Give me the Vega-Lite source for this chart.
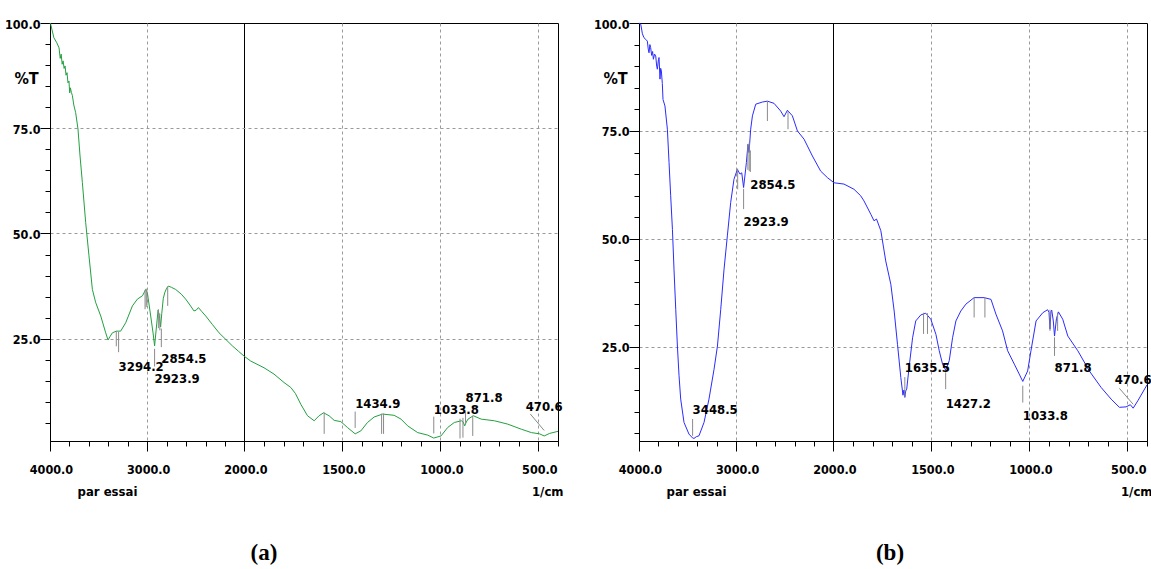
{
  "$schema": "https://vega.github.io/schema/vega-lite/v6.json",
  "background": "white",
  "padding": {"left": 0, "top": 0, "right": 0, "bottom": 0},
  "bounds": "flush",
  "spacing": 81,
  "config": {
    "view": {"stroke": "black", "strokeWidth": 1},
    "axis": {
      "labelFont": "'DejaVu Sans Condensed', 'Liberation Sans', sans-serif",
      "labelFontWeight": "bold",
      "labelFontSize": 12.5,
      "labelColor": "black",
      "titleFont": "'DejaVu Sans Condensed', 'Liberation Sans', sans-serif",
      "titleFontWeight": "bold",
      "titleFontSize": 13,
      "titleColor": "black",
      "domainColor": "black",
      "tickColor": "black",
      "labelFlush": false,
      "labelOverlap": false
    },
    "title": {"font": "'Liberation Serif', 'Times New Roman', serif", "fontSize": 23, "fontWeight": "bold", "color": "black"}
  },
  "datasets": {
    "ftirA": [
      {"wn": 4000, "t": 100}, {"wn": 3993, "t": 99.7}, {"wn": 3960, "t": 96.5}, {"wn": 3930, "t": 95.3},
      {"wn": 3907, "t": 94.1}, {"wn": 3895, "t": 91.6}, {"wn": 3885, "t": 92.6}, {"wn": 3875, "t": 90.2},
      {"wn": 3865, "t": 91.0}, {"wn": 3855, "t": 89.2}, {"wn": 3845, "t": 89.8}, {"wn": 3835, "t": 87.6},
      {"wn": 3825, "t": 88.2}, {"wn": 3815, "t": 85.8}, {"wn": 3805, "t": 86.2}, {"wn": 3797, "t": 83.4},
      {"wn": 3790, "t": 84.6}, {"wn": 3780, "t": 83.5}, {"wn": 3770, "t": 82.8}, {"wn": 3755, "t": 80.5},
      {"wn": 3736, "t": 78.7}, {"wn": 3712, "t": 74.8}, {"wn": 3691, "t": 68.4}, {"wn": 3667, "t": 62.1},
      {"wn": 3633, "t": 52.6}, {"wn": 3599, "t": 44.7}, {"wn": 3564, "t": 36.7}, {"wn": 3530, "t": 33.6},
      {"wn": 3478, "t": 30.4}, {"wn": 3427, "t": 26.4}, {"wn": 3403, "t": 24.7}, {"wn": 3380, "t": 25.6},
      {"wn": 3358, "t": 26.4}, {"wn": 3317, "t": 26.8}, {"wn": 3273, "t": 26.8}, {"wn": 3221, "t": 28.8},
      {"wn": 3152, "t": 32.8}, {"wn": 3101, "t": 34.4}, {"wn": 3049, "t": 35.2}, {"wn": 3015, "t": 36.7},
      {"wn": 2998, "t": 35.9}, {"wn": 2964, "t": 30.4}, {"wn": 2940, "t": 26.4}, {"wn": 2923.9, "t": 23.3},
      {"wn": 2902, "t": 28.5}, {"wn": 2888, "t": 31.8}, {"wn": 2875, "t": 30.5}, {"wn": 2862, "t": 27.8},
      {"wn": 2850, "t": 31.0}, {"wn": 2835, "t": 34.5}, {"wn": 2820, "t": 35.9}, {"wn": 2800, "t": 37.0},
      {"wn": 2782, "t": 37.5}, {"wn": 2750, "t": 37.2}, {"wn": 2707, "t": 36.7}, {"wn": 2650, "t": 35.6},
      {"wn": 2604, "t": 34.4}, {"wn": 2560, "t": 33.0}, {"wn": 2519, "t": 31.6}, {"wn": 2495, "t": 31.8},
      {"wn": 2473, "t": 32.4}, {"wn": 2440, "t": 31.5}, {"wn": 2398, "t": 30.4}, {"wn": 2330, "t": 28.4},
      {"wn": 2261, "t": 26.4}, {"wn": 2190, "t": 24.8}, {"wn": 2124, "t": 23.3}, {"wn": 2060, "t": 22.0},
      {"wn": 2000, "t": 20.8}, {"wn": 1968, "t": 19.7}, {"wn": 1900, "t": 18.1}, {"wn": 1849, "t": 16.6},
      {"wn": 1798, "t": 14.6}, {"wn": 1763, "t": 13.4}, {"wn": 1740, "t": 12.0}, {"wn": 1712, "t": 9.4},
      {"wn": 1678, "t": 6.7}, {"wn": 1644, "t": 5.5}, {"wn": 1619, "t": 6.7}, {"wn": 1596, "t": 7.4},
      {"wn": 1568, "t": 6.7}, {"wn": 1542, "t": 5.6}, {"wn": 1508, "t": 5.3}, {"wn": 1474, "t": 3.9},
      {"wn": 1434.9, "t": 2.4}, {"wn": 1406, "t": 3.1}, {"wn": 1372, "t": 5.1}, {"wn": 1338, "t": 6.4},
      {"wn": 1295, "t": 7.1}, {"wn": 1236, "t": 6.8}, {"wn": 1201, "t": 5.9}, {"wn": 1167, "t": 4.3},
      {"wn": 1116, "t": 2.7}, {"wn": 1065, "t": 2.1}, {"wn": 1033.8, "t": 1.4}, {"wn": 997, "t": 1.9},
      {"wn": 963, "t": 3.9}, {"wn": 929, "t": 5.1}, {"wn": 893, "t": 5.5}, {"wn": 885, "t": 5.3},
      {"wn": 876, "t": 4.3}, {"wn": 868, "t": 5.2}, {"wn": 859, "t": 5.9}, {"wn": 832, "t": 6.7},
      {"wn": 792, "t": 5.9}, {"wn": 724, "t": 5.5}, {"wn": 656, "t": 4.7}, {"wn": 587, "t": 3.5},
      {"wn": 536, "t": 2.7}, {"wn": 494, "t": 2.4}, {"wn": 470.6, "t": 1.9}, {"wn": 443, "t": 2.5},
      {"wn": 400, "t": 3.0}
    ],
    "ftirB": [
      {"wn": 4000, "t": 100}, {"wn": 3982, "t": 99.7}, {"wn": 3965, "t": 97.5}, {"wn": 3949, "t": 96.6},
      {"wn": 3930, "t": 96.2}, {"wn": 3914, "t": 95.8}, {"wn": 3905, "t": 94.0}, {"wn": 3897, "t": 93.1},
      {"wn": 3888, "t": 95.0}, {"wn": 3880, "t": 94.3}, {"wn": 3870, "t": 92.5}, {"wn": 3860, "t": 93.4},
      {"wn": 3852, "t": 91.6}, {"wn": 3840, "t": 92.8}, {"wn": 3828, "t": 92.4}, {"wn": 3818, "t": 90.0},
      {"wn": 3811, "t": 89.3}, {"wn": 3800, "t": 91.5}, {"wn": 3794, "t": 92.0}, {"wn": 3784, "t": 87.0},
      {"wn": 3777, "t": 89.5}, {"wn": 3770, "t": 88.9}, {"wn": 3760, "t": 86.0}, {"wn": 3753, "t": 82.3},
      {"wn": 3733, "t": 80.8}, {"wn": 3708, "t": 75.4}, {"wn": 3691, "t": 67.7}, {"wn": 3674, "t": 60.0},
      {"wn": 3656, "t": 52.2}, {"wn": 3640, "t": 43.0}, {"wn": 3622, "t": 33.7}, {"wn": 3605, "t": 25.2},
      {"wn": 3588, "t": 18.3}, {"wn": 3571, "t": 12.9}, {"wn": 3537, "t": 7.5}, {"wn": 3486, "t": 4.8},
      {"wn": 3448.5, "t": 3.9}, {"wn": 3434, "t": 3.8}, {"wn": 3410, "t": 4.2}, {"wn": 3383, "t": 4.4},
      {"wn": 3331, "t": 7.5}, {"wn": 3280, "t": 12.9}, {"wn": 3228, "t": 19.8}, {"wn": 3193, "t": 25.2},
      {"wn": 3159, "t": 33.7}, {"wn": 3125, "t": 43.0}, {"wn": 3091, "t": 50.7}, {"wn": 3057, "t": 58.4},
      {"wn": 3023, "t": 63.8}, {"wn": 2988, "t": 66.1}, {"wn": 2961, "t": 65.0}, {"wn": 2943, "t": 65.3},
      {"wn": 2923.9, "t": 61.9}, {"wn": 2895, "t": 67.7}, {"wn": 2879, "t": 71.9}, {"wn": 2868, "t": 70.0},
      {"wn": 2851, "t": 75.4}, {"wn": 2833, "t": 78.5}, {"wn": 2799, "t": 81.2}, {"wn": 2730, "t": 81.7},
      {"wn": 2679, "t": 81.9}, {"wn": 2611, "t": 81.4}, {"wn": 2542, "t": 79.6}, {"wn": 2508, "t": 78.3},
      {"wn": 2473, "t": 79.8}, {"wn": 2422, "t": 78.5}, {"wn": 2370, "t": 75.0}, {"wn": 2302, "t": 73.1},
      {"wn": 2216, "t": 69.2}, {"wn": 2131, "t": 65.7}, {"wn": 2062, "t": 64.2}, {"wn": 1997, "t": 63.0},
      {"wn": 1946, "t": 62.7}, {"wn": 1895, "t": 61.5}, {"wn": 1861, "t": 60.0}, {"wn": 1844, "t": 58.8},
      {"wn": 1809, "t": 55.7}, {"wn": 1793, "t": 54.2}, {"wn": 1780, "t": 54.6}, {"wn": 1758, "t": 51.9},
      {"wn": 1733, "t": 44.9}, {"wn": 1707, "t": 39.5}, {"wn": 1690, "t": 33.3}, {"wn": 1673, "t": 25.6},
      {"wn": 1656, "t": 17.9}, {"wn": 1645, "t": 13.8}, {"wn": 1640, "t": 15.0}, {"wn": 1635.5, "t": 13.3},
      {"wn": 1631, "t": 14.8}, {"wn": 1626, "t": 15.2}, {"wn": 1614, "t": 20.2}, {"wn": 1596, "t": 27.1},
      {"wn": 1580, "t": 31.0}, {"wn": 1554, "t": 32.4}, {"wn": 1529, "t": 32.8}, {"wn": 1503, "t": 31.4},
      {"wn": 1477, "t": 27.9}, {"wn": 1460, "t": 24.1}, {"wn": 1443, "t": 21.0}, {"wn": 1427.2, "t": 19.6},
      {"wn": 1409, "t": 21.8}, {"wn": 1392, "t": 27.1}, {"wn": 1375, "t": 31.0}, {"wn": 1350, "t": 33.3},
      {"wn": 1324, "t": 34.9}, {"wn": 1282, "t": 36.4}, {"wn": 1231, "t": 36.4}, {"wn": 1196, "t": 36.0},
      {"wn": 1171, "t": 32.6}, {"wn": 1137, "t": 28.7}, {"wn": 1111, "t": 24.1}, {"wn": 1077, "t": 21.0},
      {"wn": 1052, "t": 18.7}, {"wn": 1033.8, "t": 17.0}, {"wn": 1009, "t": 19.4}, {"wn": 992, "t": 24.1},
      {"wn": 966, "t": 31.0}, {"wn": 932, "t": 32.9}, {"wn": 907, "t": 33.6}, {"wn": 900, "t": 33.0},
      {"wn": 895, "t": 29.1}, {"wn": 890, "t": 33.2}, {"wn": 886, "t": 33.5}, {"wn": 878, "t": 31.0},
      {"wn": 871.8, "t": 27.5}, {"wn": 862, "t": 31.5}, {"wn": 852, "t": 33.1}, {"wn": 830, "t": 31.4},
      {"wn": 804, "t": 27.5}, {"wn": 753, "t": 24.1}, {"wn": 694, "t": 19.4}, {"wn": 634, "t": 15.6},
      {"wn": 583, "t": 12.9}, {"wn": 541, "t": 11.0}, {"wn": 507, "t": 11.1}, {"wn": 485, "t": 11.6},
      {"wn": 470.6, "t": 10.8}, {"wn": 447, "t": 12.5}, {"wn": 400, "t": 16.2}
    ],
    "marksA": [
      {"wn": 3318, "wn2": 3318, "t1": 26.8, "t2": 23.2},
      {"wn": 3294.2, "wn2": 3294.2, "t1": 26.6, "t2": 21.8},
      {"wn": 3022, "wn2": 3022, "t1": 36.6, "t2": 32.0},
      {"wn": 3010, "wn2": 3010, "t1": 36.9, "t2": 32.5},
      {"wn": 3002, "wn2": 3002, "t1": 36.2, "t2": 33.0},
      {"wn": 2923.9, "wn2": 2923.9, "t1": 22.6, "t2": 18.4},
      {"wn": 2885, "wn2": 2885, "t1": 32.0, "t2": 27.5},
      {"wn": 2870, "wn2": 2870, "t1": 31.0, "t2": 27.0},
      {"wn": 2854.5, "wn2": 2854.5, "t1": 27.4, "t2": 23.0},
      {"wn": 2789, "wn2": 2789, "t1": 37.4, "t2": 32.8},
      {"wn": 1593, "wn2": 1593, "t1": 7.5, "t2": 2.4},
      {"wn": 1434.9, "wn2": 1434.9, "t1": 7.7, "t2": 3.8},
      {"wn": 1300, "wn2": 1300, "t1": 7.2, "t2": 2.4},
      {"wn": 1290, "wn2": 1290, "t1": 7.2, "t2": 2.4},
      {"wn": 1033.8, "wn2": 1033.8, "t1": 6.5, "t2": 2.5},
      {"wn": 900, "wn2": 900, "t1": 6.0, "t2": 1.3},
      {"wn": 885, "wn2": 885, "t1": 6.2, "t2": 1.5},
      {"wn": 871.8, "wn2": 871.8, "t1": 7.5, "t2": 4.8},
      {"wn": 835, "wn2": 835, "t1": 6.7, "t2": 1.9},
      {"wn": 541, "wn2": 470.6, "t1": 7.1, "t2": 3.2}
    ],
    "marksB": [
      {"wn": 3448.5, "wn2": 3448.5, "t1": 8.3, "t2": 4.4},
      {"wn": 2985, "wn2": 2985, "t1": 66.3, "t2": 61.5},
      {"wn": 2923.9, "wn2": 2923.9, "t1": 61.6, "t2": 56.9},
      {"wn": 2880, "wn2": 2880, "t1": 72.0, "t2": 66.0},
      {"wn": 2866, "wn2": 2866, "t1": 72.3, "t2": 65.7},
      {"wn": 2854.5, "wn2": 2854.5, "t1": 70.5, "t2": 65.5},
      {"wn": 2679, "wn2": 2679, "t1": 81.9, "t2": 77.3},
      {"wn": 2467, "wn2": 2467, "t1": 79.6, "t2": 75.4},
      {"wn": 1635.5, "wn2": 1635.5, "t1": 18.0, "t2": 13.4},
      {"wn": 1540, "wn2": 1540, "t1": 32.9, "t2": 28.0},
      {"wn": 1520, "wn2": 1520, "t1": 32.8, "t2": 28.0},
      {"wn": 1427.2, "wn2": 1427.2, "t1": 19.1, "t2": 15.2},
      {"wn": 1282, "wn2": 1282, "t1": 36.4, "t2": 31.8},
      {"wn": 1227, "wn2": 1227, "t1": 36.4, "t2": 31.8},
      {"wn": 1033.8, "wn2": 1033.8, "t1": 16.0, "t2": 12.1},
      {"wn": 895, "wn2": 895, "t1": 33.6, "t2": 28.7},
      {"wn": 871.8, "wn2": 871.8, "t1": 27.2, "t2": 22.9},
      {"wn": 856, "wn2": 856, "t1": 32.9, "t2": 28.7},
      {"wn": 541, "wn2": 470.6, "t1": 15.4, "t2": 11.7}
    ],
    "labelsA": [
      {"wn": 3294.2, "ty": 17.4},
      {"wn": 2923.9, "ty": 14.5},
      {"wn": 2854.5, "ty": 19.3},
      {"wn": 1434.9, "ty": 8.6},
      {"wn": 1033.8, "ty": 7.2},
      {"wn": 871.8, "ty": 10.0},
      {"wn": 470.6, "ty": 7.9}
    ],
    "labelsB": [
      {"wn": 3448.5, "ty": 9.5},
      {"wn": 2923.9, "ty": 53.0},
      {"wn": 2854.5, "ty": 61.6},
      {"wn": 1635.5, "ty": 19.1},
      {"wn": 1427.2, "ty": 10.9},
      {"wn": 1033.8, "ty": 8.0},
      {"wn": 871.8, "ty": 19.1},
      {"wn": 470.6, "ty": 16.4}
    ]
  },
  "hconcat": [
    {
      "width": 508,
      "height": 418,
      "title": {"text": "(a)", "orient": "bottom", "offset": 44, "dx": -40},
      "resolve": {"axis": {"x": "independent", "y": "independent"}},
      "layer": [
        {
          "data": {"name": "ftirA"},
          "mark": {"type": "line", "color": "#22a040", "strokeWidth": 1},
          "encoding": {
            "x": {
              "field": "wn", "type": "quantitative",
              "scale": {"domain": [4000, 2000, 400], "range": [0, 194.4, 508], "nice": false, "zero": false},
              "axis": {
                "orient": "bottom",
                "values": [4000, 3000, 2000, 1500, 1000, 500], "format": ".1f",
                "tickSize": 10, "labelPadding": 12, "labelOffset": 1,
                "grid": true,
                "gridColor": {"condition": {"test": "datum.value === 2000", "value": "black"}, "value": "#9a9a9a"},
                "gridDash": {"condition": {"test": "datum.value === 2000", "value": []}, "value": [3, 3]},
                "gridOpacity": {"condition": {"test": "datum.value === 4000", "value": 0}, "value": 1},
                "title": "par essai", "titleX": 57, "titleY": 54, "titleAlign": "center", "titleBaseline": "alphabetic", "titleAnchor": null
              }
            },
            "y": {
              "field": "t", "type": "quantitative",
              "scale": {"domain": [0.7, 100], "nice": false, "zero": false},
              "axis": {
                "orient": "left",
                "values": [25, 50, 75, 100], "format": ".1f",
                "tickSize": 10, "labelPadding": 0, "labelOffset": 1,
                "grid": true, "gridColor": "#9a9a9a", "gridDash": [3, 3],
                "gridOpacity": {"condition": {"test": "datum.value === 100", "value": 0}, "value": 1},
                "title": "%T", "titleAngle": 0, "titleX": -24, "titleY": 60, "titleAlign": "center", "titleBaseline": "alphabetic", "titleFontSize": 16
              }
            }
          }
        },
        {
          "data": {"name": "marksA"},
          "mark": {"type": "rule", "color": "#8a8a8a", "strokeWidth": 1},
          "encoding": {
            "x": {
              "field": "wn", "type": "quantitative",
              "scale": {"domain": [4000, 2000, 400], "range": [0, 194.4, 508], "nice": false, "zero": false},
              "axis": {
                "orient": "bottom",
                "values": [3800, 3600, 3400, 3200, 2800, 2600, 2400, 2200, 1900, 1800, 1700, 1600, 1400, 1300, 1200, 1100, 900, 800, 700, 600, 400],
                "tickSize": 5, "labels": false, "domain": false, "grid": false,
                "title": "1/cm", "titleX": 513, "titleY": 54, "titleAlign": "right", "titleBaseline": "alphabetic", "titleAnchor": null
              }
            },
            "x2": {"field": "wn2"},
            "y": {
              "field": "t1", "type": "quantitative",
              "scale": {"domain": [0.7, 100], "nice": false, "zero": false},
              "axis": {
                "orient": "left",
                "values": [5, 10, 15, 20, 30, 35, 40, 45, 55, 60, 65, 70, 80, 85, 90, 95],
                "tickSize": 5, "labels": false, "domain": false, "grid": false,
                "title": ".", "titleOpacity": 0, "titleAngle": 0, "titleX": -49.3, "titleY": -22, "titleAlign": "left", "titleBaseline": "top"
              }
            },
            "y2": {"field": "t2"}
          }
        },
        {
          "data": {"name": "labelsA"},
          "transform": [{"filter": "datum.wn > 500"}],
          "mark": {"type": "text", "align": "left", "baseline": "alphabetic", "font": "'DejaVu Sans Condensed', 'Liberation Sans', sans-serif", "fontWeight": "bold", "fontSize": 13, "color": "black"},
          "encoding": {
            "x": {"field": "wn", "type": "quantitative", "axis": null, "scale": {"domain": [4000, 2000, 400], "range": [0, 194.4, 508], "nice": false, "zero": false}},
            "y": {"field": "ty", "type": "quantitative", "axis": null, "scale": {"domain": [0.7, 100], "nice": false, "zero": false}},
            "text": {"field": "wn", "type": "quantitative", "format": ".1f"}
          }
        },
        {
          "data": {"name": "labelsA"},
          "transform": [{"filter": "datum.wn < 500"}],
          "mark": {"type": "text", "align": "center", "baseline": "alphabetic", "font": "'DejaVu Sans Condensed', 'Liberation Sans', sans-serif", "fontWeight": "bold", "fontSize": 13, "color": "black"},
          "encoding": {
            "x": {"field": "wn", "type": "quantitative", "axis": null, "scale": {"domain": [4000, 2000, 400], "range": [0, 194.4, 508], "nice": false, "zero": false}},
            "y": {"field": "ty", "type": "quantitative", "axis": null, "scale": {"domain": [0.7, 100], "nice": false, "zero": false}},
            "text": {"field": "wn", "type": "quantitative", "format": ".1f"}
          }
        }
      ]
    },
    {
      "width": 508,
      "height": 418,
      "title": {"text": "(b)", "orient": "bottom", "offset": 44, "dx": -3},
      "resolve": {"axis": {"x": "independent", "y": "independent"}},
      "layer": [
        {
          "data": {"name": "ftirB"},
          "mark": {"type": "line", "color": "#2b2bff", "strokeWidth": 1},
          "encoding": {
            "x": {
              "field": "wn", "type": "quantitative",
              "scale": {"domain": [4000, 2000, 400], "range": [0, 194.4, 508], "nice": false, "zero": false},
              "axis": {
                "orient": "bottom",
                "values": [4000, 3000, 2000, 1500, 1000, 500], "format": ".1f",
                "tickSize": 10, "labelPadding": 12, "labelOffset": 1,
                "grid": true,
                "gridColor": {"condition": {"test": "datum.value === 2000", "value": "black"}, "value": "#9a9a9a"},
                "gridDash": {"condition": {"test": "datum.value === 2000", "value": []}, "value": [3, 3]},
                "gridOpacity": {"condition": {"test": "datum.value === 4000", "value": 0}, "value": 1},
                "title": "par essai", "titleX": 57, "titleY": 54, "titleAlign": "center", "titleBaseline": "alphabetic", "titleAnchor": null
              }
            },
            "y": {
              "field": "t", "type": "quantitative",
              "scale": {"domain": [3.2, 100], "nice": false, "zero": false},
              "axis": {
                "orient": "left",
                "values": [25, 50, 75, 100], "format": ".1f",
                "tickSize": 10, "labelPadding": 0, "labelOffset": 1,
                "grid": true, "gridColor": "#9a9a9a", "gridDash": [3, 3],
                "gridOpacity": {"condition": {"test": "datum.value === 100", "value": 0}, "value": 1},
                "title": "%T", "titleAngle": 0, "titleX": -24, "titleY": 60, "titleAlign": "center", "titleBaseline": "alphabetic", "titleFontSize": 16
              }
            }
          }
        },
        {
          "data": {"name": "marksB"},
          "mark": {"type": "rule", "color": "#8a8a8a", "strokeWidth": 1},
          "encoding": {
            "x": {
              "field": "wn", "type": "quantitative",
              "scale": {"domain": [4000, 2000, 400], "range": [0, 194.4, 508], "nice": false, "zero": false},
              "axis": {
                "orient": "bottom",
                "values": [3800, 3600, 3400, 3200, 2800, 2600, 2400, 2200, 1900, 1800, 1700, 1600, 1400, 1300, 1200, 1100, 900, 800, 700, 600, 400],
                "tickSize": 5, "labels": false, "domain": false, "grid": false,
                "title": "1/cm", "titleX": 513, "titleY": 54, "titleAlign": "right", "titleBaseline": "alphabetic", "titleAnchor": null
              }
            },
            "x2": {"field": "wn2"},
            "y": {
              "field": "t1", "type": "quantitative",
              "scale": {"domain": [3.2, 100], "nice": false, "zero": false},
              "axis": {
                "orient": "left",
                "values": [5, 10, 15, 20, 30, 35, 40, 45, 55, 60, 65, 70, 80, 85, 90, 95],
                "tickSize": 5, "labels": false, "domain": false, "grid": false, "title": null
              }
            },
            "y2": {"field": "t2"}
          }
        },
        {
          "data": {"name": "labelsB"},
          "transform": [{"filter": "datum.wn > 500"}],
          "mark": {"type": "text", "align": "left", "baseline": "alphabetic", "font": "'DejaVu Sans Condensed', 'Liberation Sans', sans-serif", "fontWeight": "bold", "fontSize": 13, "color": "black"},
          "encoding": {
            "x": {"field": "wn", "type": "quantitative", "axis": null, "scale": {"domain": [4000, 2000, 400], "range": [0, 194.4, 508], "nice": false, "zero": false}},
            "y": {"field": "ty", "type": "quantitative", "axis": null, "scale": {"domain": [3.2, 100], "nice": false, "zero": false}},
            "text": {"field": "wn", "type": "quantitative", "format": ".1f"}
          }
        },
        {
          "data": {"name": "labelsB"},
          "transform": [{"filter": "datum.wn < 500"}],
          "mark": {"type": "text", "align": "center", "baseline": "alphabetic", "font": "'DejaVu Sans Condensed', 'Liberation Sans', sans-serif", "fontWeight": "bold", "fontSize": 13, "color": "black"},
          "encoding": {
            "x": {"field": "wn", "type": "quantitative", "axis": null, "scale": {"domain": [4000, 2000, 400], "range": [0, 194.4, 508], "nice": false, "zero": false}},
            "y": {"field": "ty", "type": "quantitative", "axis": null, "scale": {"domain": [3.2, 100], "nice": false, "zero": false}},
            "text": {"field": "wn", "type": "quantitative", "format": ".1f"}
          }
        }
      ]
    }
  ]
}
